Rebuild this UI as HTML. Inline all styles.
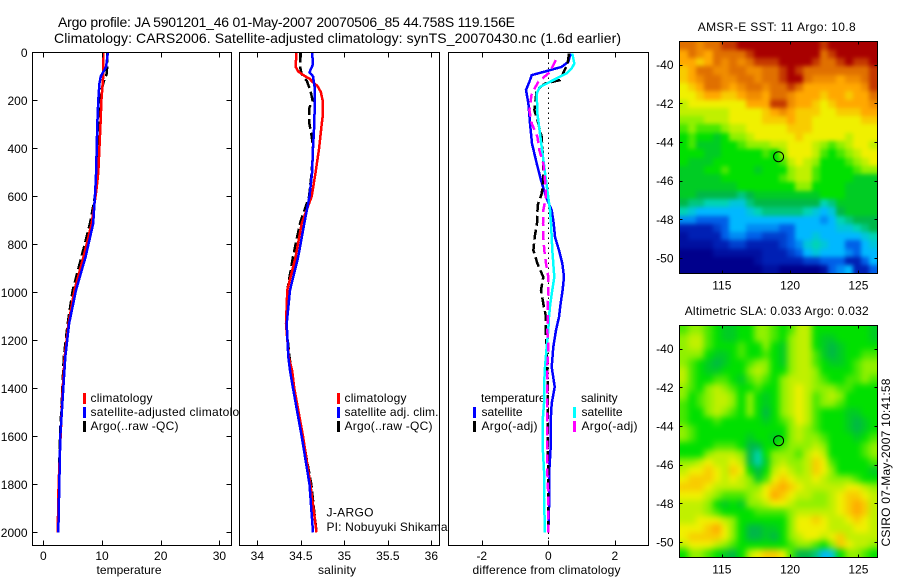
<!DOCTYPE html>
<html>
<head>
<meta charset="utf-8">
<title>Argo profile</title>
<style>
html,body{margin:0;padding:0;background:#fff;}
svg{display:block;}
text{font-family:"Liberation Sans",sans-serif;font-size:12px;fill:#000;}
</style>
</head>
<body>
<svg id="chart" xmlns="http://www.w3.org/2000/svg" width="900" height="580" viewBox="0 0 900 580">
  <defs>
    <filter id="smoothSst" x="0" y="0" width="100%" height="100%" color-interpolation-filters="sRGB">
      <feGaussianBlur stdDeviation="2"/>
      <feComponentTransfer><feFuncA type="linear" slope="100"/></feComponentTransfer>
    </filter>
    <filter id="smoothSla" x="0" y="0" width="100%" height="100%" color-interpolation-filters="sRGB">
      <feGaussianBlur stdDeviation="3.2"/>
      <feComponentTransfer><feFuncA type="linear" slope="100"/></feComponentTransfer>
    </filter>
  </defs>
  <text x="58" y="27" style="font-size:14px" textLength="457" lengthAdjust="spacing">Argo profile: JA 5901201_46 01-May-2007 20070506_85 44.758S 119.156E</text>
  <text x="54" y="43" style="font-size:14px" textLength="567" lengthAdjust="spacing">Climatology: CARS2006. Satellite-adjusted climatology: synTS_20070430.nc (1.6d earlier)</text>
  <g id="panel-temp"></g>
  <g id="panel-sal"></g>
  <g id="panel-diff"></g>
  <g id="map-sst"></g>
  <g id="map-sla"></g>
  <text x="776.7" y="31" text-anchor="middle" textLength="158" lengthAdjust="spacing">AMSR-E SST: 11 Argo: 10.8</text>
  <text x="776.7" y="315" text-anchor="middle" textLength="184" lengthAdjust="spacing">Altimetric SLA: 0.033 Argo: 0.032</text>
  <text transform="translate(890,546.5) rotate(-90)" textLength="168" lengthAdjust="spacing">CSIRO 07-May-2007 10:41:58</text>
</svg>
<script>
/* ---------- profile data ---------- */
const depthTicks = [0,200,400,600,800,1000,1200,1400,1600,1800,2000];
const tempTicks = [0,10,20,30];
const salTicks = [34,34.5,35,35.5,36];
const salTickLabels = ['34','34.5','35','35.5','36'];
const diffTicks = [-2,0,2];

const tempClimDepth = [0,100,200,300,400,500,574,713,852,991,1130,1269,1400,1600,1800,2000];
const tempClim = [10.2,10.2,9.9,9.75,9.55,9.37,9.05,8.25,6.85,5.3,4.3,3.65,3.3,2.95,2.6,2.45];
const tempSatDepth = [0,61,100,130,200,300,400,500,574,713,852,991,1130,1269,1400,1600,1800,2000];
const tempSat = [11,10.7,9.8,9.55,9.37,9.2,9.1,9,8.86,8.5,7.2,5.57,4.4,3.75,3.4,2.9,2.73,2.55];
const tempArgoDepth = [0,50,90,120,150,200,300,400,500,574,713,852,991,1130,1269,1400,1600,1800,2000];
const tempArgo = [10.9,10.9,10.8,10.3,10,9.65,9.55,9.4,9.3,9,7.95,6.5,5,4.15,3.5,3.25,2.85,2.65,2.5];

const salClimDepth = [0,60,80,100,110,125,140,165,200,270,300,400,500,600,713,852,991,1130,1269,1325,1400,1600,1800,2000];
const salClim = [34.45,34.44,34.47,34.55,34.6,34.64,34.69,34.73,34.75,34.75,34.74,34.71,34.67,34.625,34.51,34.44,34.345,34.33,34.36,34.4,34.425,34.525,34.61,34.68];
const salSatDepth = [0,50,83,100,150,200,300,400,500,600,713,852,991,1130,1269,1325,1400,1600,1800,2000];
const salSat = [34.63,34.64,34.6,34.64,34.66,34.66,34.655,34.64,34.63,34.6,34.54,34.47,34.376,34.338,34.356,34.376,34.41,34.51,34.6,34.64];
const salArgoDepth = [0,60,90,120,160,200,230,260,300,350,400,500,600,713,852,991,1130,1269,1325,1400,1600,1800,2000];
const salArgo = [34.49,34.49,34.51,34.57,34.61,34.635,34.6,34.595,34.6,34.625,34.64,34.625,34.595,34.49,34.41,34.345,34.33,34.37,34.39,34.42,34.52,34.62,34.68];

const diffTempSatDepth = [5,40,61,82,95,123,157,213,296,380,463,533,602,658,713,769,825,880,936,991,1047,1103,1158,1228,1311,1394,1463,1533,1644,1742,1853,2000];
const diffTempSat = [0.67,0.6,0.4,-0.15,-0.5,-0.57,-0.67,-0.6,-0.55,-0.49,-0.35,-0.22,-0.07,0.1,0.16,0.2,0.32,0.42,0.47,0.43,0.37,0.32,0.23,0.15,0.1,0.19,0.1,0.07,0.07,0.03,0.03,0];
const diffTempArgoDepth = [5,47,116,130,157,241,283,352,463,533,590,637,713,769,825,880,936,991,1047,1103,1158,1228,1400,2000];
const diffTempArgo = [0.62,0.58,0.35,-0.1,-0.35,-0.42,-0.33,-0.2,-0.15,-0.15,-0.2,-0.32,-0.34,-0.41,-0.45,-0.33,-0.15,-0.22,-0.15,-0.07,-0.08,-0.05,-0.02,0];
const diffSalSatDepth = [5,47,68,88,116,144,172,255,394,533,658,713,769,825,880,936,991,1047,1103,1158,1228,1311,1394,1463,1533,1644,1742,1853,2000];
const diffSalSat = [0.72,0.78,0.7,0.55,0.15,-0.25,-0.35,-0.33,-0.2,-0.07,0.05,0.08,0.1,0.12,0.15,0.18,0.12,0.06,0.02,0,-0.05,-0.1,-0.13,-0.13,-0.17,-0.17,-0.13,-0.13,-0.1];
const diffSalArgoDepth = [33,82,123,172,241,296,352,408,463,533,602,658,713,769,825,880,936,991,1047,1103,1158,1228,1311,1463,1533,1644,1742,1853,2000];
const diffSalArgo = [0.22,0.05,-0.3,-0.5,-0.57,-0.5,-0.33,-0.27,-0.15,-0.1,-0.07,-0.15,-0.16,-0.15,-0.12,-0.07,0,0,-0.02,-0.02,-0.03,0,-0.03,-0.03,-0.03,-0.03,-0.03,0,0];

/* ---------- map data ---------- */
const lonTicks = [115,120,125];
const latTicks = [-40,-42,-44,-46,-48,-50];
const argoLon = 119.156;
const argoLat = -44.758;
const sstGrid = [
[10,10,9.5,10,10,10.5,10.5,11,11,11,11,11,11,11,11,11,11,10.5,11,11,11,11,11,11],
[9,10,9.5,9,10,10,10,10,10.5,11,11,11,11,11,11,11,11,10,10.5,11,11,11,11,11],
[9,9,8.5,9,10,9.5,10,9.5,10,10.5,10.5,10.5,11,11,11,11,10.5,10,10,10.5,11,10.5,10.5,11],
[8.5,9,10,10,9.5,9.5,10,10,9.5,9.5,10,10,10.5,11,10.5,10,10,10,10,10,10,10,10,10.5],
[8.5,9,9.5,10,10,9.5,9.5,10,10,9.5,10,10,10.5,11,11,10,9.5,9.5,9.5,9,9.5,9.5,10,10.5],
[8,8.5,9,10,10,9.5,9,9.5,10,10,9.5,10,10,10.5,10,9,9,9,9,9,9,9,9.5,10.5],
[8,8,8.5,9,9,8.5,8.5,9,9.5,9.5,9,10,10,9.5,9,9,9,8.5,9,9,8.5,9,9,10],
[7.5,8,8,8,8,8,8,8,9,9,9,10.5,10.5,9.5,9,9,8.5,8,8.5,9,9,9,9,9.5],
[7.5,7.5,7.5,7.5,7.5,7.5,8,8,8,8,8.5,9,9.5,9,8.5,8.5,8.5,8,8,8.5,8.5,8.5,9,9],
[7,7,7,7.5,7.5,7.5,8,8,8,8,8.5,8.5,8.5,9,8.5,8.5,8,8,8,8,8,8,8.5,8.5],
[6.5,7,6.5,6.5,6.5,7,7.5,7.5,8,8,8,8,8,8.5,8.5,8.5,8,8,8,8,8,8,8,8],
[6,6.5,6,6,5.5,6,7,7,7.5,8,8,8,8,8,8.5,8,8,8,8,8,7.5,8,8,8],
[6,6.5,5.5,5.5,5.5,6,6,6.5,7,7,7,7.5,7.5,8,8,8,7.5,7,6.5,7,7.5,8,8,7.5],
[6,6,6,5.5,5.5,6,6,6,6,6,6.5,6,7,8,8,8,7.5,6.5,6,6.5,7,7.5,8,8],
[6,5.5,5.5,5.5,6,6,6,6,6,6,6,6,6.5,7.5,8,7.5,7,6,6,6,6.5,7,7.5,8],
[5.5,5.5,5.5,6,6,6.5,6,6,6,5.5,6,6,6,7,7.5,7.5,6.5,6,6,6,6,6.5,7,7],
[5.5,5.5,5.5,5.5,5.5,6,6,6,6,6,6,6,6.5,7,7.5,7.5,6.5,6,6,6,6,5.5,5.5,5.5],
[5.5,5.5,5.5,5.5,5.5,5.5,5.5,6,6,6,6,6,6,6,7,7,6,6,6,6,5.5,5.5,5.5,5.5],
[5.5,5.5,5,5,5,5,5,4.5,5,5.5,5.5,5.5,5.5,5.5,5.5,5.5,5.5,6,6,6,5.5,5.5,5.5,5.5],
[5,4.5,4.5,4,4,4,3.5,3.5,4.5,5,5,5,5,5,5,5,5,4,4.5,5.5,5.5,5.5,5.5,5.5],
[4,3.5,3,3,3,3,3,3,3.5,4,4.5,4.5,4.5,4.5,4.5,4,3.5,3,3.5,5,5.5,5.5,5.5,5.5],
[2.5,2.5,2,2,2,2,3,3,3,3,3,3,3,3,3,3,3,2.5,3,4,4.5,5,5,5],
[1,1,1,1,1.5,2,3,3,2.5,2.5,2.5,2.5,2,2,3,3,3,3,3,3.5,3.5,4,4.5,5],
[0.5,1,1,1,1,2,2.5,2.5,2,2,1.5,1.5,1.5,2,3,3,3.5,3,3,3,3,3,3.5,4],
[0.5,0.5,0.5,0.5,1,1,1.5,1.5,1,1,1,1,1.5,2,2.5,3.5,4,3.5,3,3,2,2,3,3.5],
[0,0,0,0,0.5,0.5,0.5,0.5,0.5,0.5,1,1,1,1.5,2,3,3.5,3,3,3,2.5,2,3,3],
[0,0,0,0,0,0,0,0,0,0.5,1,1,1,1,1,1.5,1.5,2,2,2,1,1,2,3],
[0,0,0,0,0,0,0,0,0,0,0.5,0.5,0,0,0,0,0,0.5,2,2.5,3,1,1,2]
];
const slaGrid = [
[6.5,7,7,6.5,6,5.5,5.5,6,6,7,7,6.5,6,6.5,7.5,7.5,6,6,6,6,6,6,6,5.5],
[7,7.5,7.5,6.5,6,5.5,5.5,6,6,7,7,6.5,6,7,7.5,7.5,6,5.5,5.5,6,6,6,6,5.5],
[7,7.5,7.5,6.5,6,6,6,6.5,6,6,7,6,5.5,7,7.5,7.5,6,5.5,5,5.5,6,6,6,6],
[7,7,7,6,5.5,5.5,6,6.5,6,6,6.5,6,5.5,7,7.5,7.5,6.5,5.5,5,5.5,6,6,6.5,6.5],
[7,6.5,6,5.5,5,5.5,6,6,6.5,7,7,6,5.5,7,7.5,7.5,6.5,6,5.5,5.5,6,6.5,7,7],
[7.5,6.5,6,5.5,5.5,6,6,6,7,7.5,7,6,6,7,7.5,7.5,7,6,6,6,6,6.5,7,7],
[7.5,6.5,6,6,6.5,6.5,6,5.5,6.5,7,6.5,6,7,7.5,7.5,7.5,7,6.5,6,6,6.5,6.5,7,6.5],
[7,6.5,6,7,7.5,7,6.5,6,6,6.5,6,6,7,7.5,8,7.5,7,7,7,6.5,6.5,6,6,6],
[7,6,6.5,7,7.5,7.5,7,6,7,6,5.5,6,7,7.5,8,7.5,6.5,7,7.5,7,6,6,6,6],
[6.5,6,6.5,7,7.5,7.5,7,6,7,6,5.5,6,7,7.5,8,7.5,6.5,7,7,6.5,6,6,6,6],
[6.5,6,6,7,7.5,7,6.5,6,7,6,5,6,7,7.5,8,7.5,6.5,6,6,6,5.5,5.5,6,6],
[6.5,6,6,6,6.5,6,6,6,6,6,5.5,6,6.5,7,8,7.5,6.5,6,6,6,5.5,5,5.5,6],
[7,6.5,6,6,6,6,6,6,6,6,6,6,6,7,7.5,7,6.5,6,6,6,5.5,5,5.5,6],
[7,6.5,6,6,6,6,6,6,5.5,6,6,5.5,6,7,7.5,7,7,6.5,6,6,6,5.5,6,6.5],
[6,6,6,6,6.5,6.5,6.5,6,5,5,6,6,6.5,7,7,7,7.5,7,6,6,6,6,6.5,7],
[6,6,6,7,7.5,7.5,7.5,7,5,4,6,7,7,7,6.5,7.5,8,7.5,6,6,6,6,6.5,7],
[7,7,7.5,8,7.5,7.5,8,7.5,5,4,5.5,7,7.5,7,7,7.5,8.5,8,6.5,6,6,6,6,6.5],
[7.5,8,8,8.5,8,7.5,8.5,8,6,5,6,7.5,8,7.5,7,7.5,8.5,8,7,6,6,6,6,5.5],
[8,8.5,8.5,8.5,8,7.5,8,7.5,7,5.5,6.5,8,8.5,8,7.5,7.5,8,7.5,7,7,7,6.5,6,6],
[8.5,8.5,8.5,8,7.5,7.5,7.5,7.5,7,7,8,8.5,9,8.5,8,7.5,7.5,7.5,7.5,7.5,8,8,7.5,7],
[8,8,8,7.5,7,6.5,6.5,6.5,7,7.5,8,9,8.5,8,7.5,7.5,7,7,7.5,8,8.5,8.5,8,7.5],
[7.5,7.5,7.5,7,6,5.5,6,5.5,7,7,7.5,8,8,7.5,7,7,7,7,7.5,8,8.5,9,8.5,7.5],
[7.5,7.5,7.5,7,6.5,6,6,6,6,6.5,6.5,6.5,6.5,7,7.5,7.5,7.5,7.5,7.5,8,8.5,9,8.5,7.5],
[7.5,7.5,8,8,8,7.5,7,6,6,6,6,6,6,7,8,8,8.5,8,7.5,7.5,8,8.5,8,7.5],
[8,8,8,8.5,9,8,7,6,5,5,5.5,5.5,6,7,8,8,8,8,7.5,7.5,7.5,8,8,7.5],
[8,8.5,8.5,8.5,8.5,8,7,6,5,5,5.5,5,6,7,7.5,8,8,7.5,8,8.5,7.5,7.5,7.5,7.5],
[7.5,8,8,8,7.5,7,6.5,6,6,6,6,6,6,6.5,7,7,6.5,6,7,8.5,8,7.5,7.5,7],
[6,7,7,6.5,6,5.5,5,6,7.5,8,8.5,8.5,8,6.5,5,5,4.5,3,3.5,6,7,7,6.5,6]
];
const colorStops = ['#00008c','#0020b4','#0060e8','#00b8ff','#00d4b4','#00b848','#00e000','#90f000','#f0f000','#ffa800','#e07000','#a80000'];

/* ---------- helpers ---------- */
const NS = 'http://www.w3.org/2000/svg';
function el(tag, attrs, parent, txt) {
  const n = document.createElementNS(NS, tag);
  for (const k in attrs) n.setAttribute(k, attrs[k]);
  if (txt !== undefined) n.textContent = txt;
  parent.appendChild(n);
  return n;
}
function linear(d0, d1, r0, r1) {
  return v => r0 + (v - d0) * (r1 - r0) / (d1 - d0);
}
function hexRgb(h) {
  return [parseInt(h.slice(1,3),16), parseInt(h.slice(3,5),16), parseInt(h.slice(5,7),16)];
}
function levelColor(v) {
  const c = Math.max(0, Math.min(colorStops.length - 1, v));
  const i = Math.min(colorStops.length - 2, Math.floor(c));
  const t = c - i;
  const a = hexRgb(colorStops[i]);
  const b = hexRgb(colorStops[i + 1]);
  return 'rgb(' + a.map((q, j) => Math.round(q + (b[j] - q) * t)).join(',') + ')';
}
function frame(parent, box) {
  const f = el('rect', {x:box.l, y:box.t, width:box.r-box.l, height:box.b-box.t, fill:'none', stroke:'#000', 'stroke-width':1, 'shape-rendering':'crispEdges'}, parent);
  
  
}
function panelBack(parent, box) {
  const f = el('rect', {x:box.l, y:box.t, width:box.r-box.l, height:box.b-box.t, fill:'#fff'}, parent);
  
  
}
function tick(parent, x1, y1, x2, y2) {
  const t = el('line', {x1:x1, y1:y1, x2:x2, y2:y2, stroke:'#000', 'stroke-width':1, 'shape-rendering':'crispEdges'}, parent);
  
  
}
function label(parent, x, y, s, anchor, len) {
  const attrs = {x:x, y:y, 'text-anchor':anchor || 'middle'};
  if (len) { attrs.textLength = len; attrs.lengthAdjust = 'spacing'; }
  const t = el('text', attrs, parent, s);
  
  
  return t;
}
function profile(parent, clipId, xs, ds, vals, depths, color, dash, name) {
  const pts = vals.map((v, i) => xs(v).toFixed(1) + ',' + ds(depths[i]).toFixed(1)).join(' ');
  const attrs = {points:pts, fill:'none', stroke:color, 'stroke-width':2.5, 'shape-rendering':'crispEdges', 'clip-path':'url(#' + clipId + ')'};
  if (dash) attrs['stroke-dasharray'] = dash;
  const p = el('polyline', attrs, parent);
  
  
}
function legendEntry(parent, barX, textX, baseline, color, s, len) {
  const b = el('rect', {x:barX, y:baseline-9, width:3, height:11, fill:color, 'shape-rendering':'crispEdges'}, parent);
  
  
  const attrs = {x:textX, y:baseline};
  if (len) { attrs.textLength = len; attrs.lengthAdjust = 'spacing'; }
  const t = el('text', attrs, parent, s);
  
  
}

const svg = document.getElementById('chart');
const defs = svg.querySelector('defs');
function addClip(id, box) {
  const c = el('clipPath', {id:id}, defs);
  el('rect', {x:box.l, y:box.t, width:box.r-box.l, height:box.b-box.t}, c);
}

const boxT = {l:32.5, r:231.5, t:52.5, b:545.5};
const boxS = {l:239.5, r:439.5, t:52.5, b:545.5};
const boxD = {l:448.5, r:648.5, t:52.5, b:545.5};
addClip('clipT', boxT);
addClip('clipS', boxS);
addClip('clipD', boxD);
const depthScale = linear(0, 2054, 52.3, 545.3);

/* ---------- temperature panel ---------- */
(function () {
  const g = document.getElementById('panel-temp');
  const xs = linear(-1.84, 32.06, boxT.l, boxT.r);
  panelBack(g, boxT);
  profile(g, 'clipT', xs, depthScale, tempArgo, tempArgoDepth, '#000', '10 4', 'temperature-argo-line');
  profile(g, 'clipT', xs, depthScale, tempClim, tempClimDepth, '#ff0000', null, 'temperature-climatology-line');
  profile(g, 'clipT', xs, depthScale, tempSat, tempSatDepth, '#0000ff', null, 'temperature-satellite-line');
  legendEntry(g, 83, 90.5, 402, '#ff0000', 'climatology', 62);
  legendEntry(g, 83, 90.5, 416, '#0000ff', 'satellite-adjusted climatology', 162);
  legendEntry(g, 83, 90.5, 430, '#000', 'Argo(..raw -QC)', 88);
  tempTicks.forEach(v => {
    const x = Math.round(xs(v)) + 0.5;
    tick(g, x, boxT.t, x, boxT.t + 5);
    tick(g, x, boxT.b, x, boxT.b - 5);
    label(g, xs(v), 560, String(v));
  });
  depthTicks.forEach(d => {
    const y = Math.round(depthScale(d)) + 0.5;
    tick(g, boxT.l, y, boxT.l + 5, y);
    tick(g, boxT.r, y, boxT.r - 5, y);
    label(g, 27.5, depthScale(d) + 4.5, String(d), 'end');
  });
  label(g, 129, 574, 'temperature', 'middle', 65);
  frame(g, boxT);
})();

/* ---------- salinity panel ---------- */
(function () {
  const g = document.getElementById('panel-sal');
  const xs = linear(33.795, 36.094, boxS.l, boxS.r);
  panelBack(g, boxS);
  profile(g, 'clipS', xs, depthScale, salArgo, salArgoDepth, '#000', '10 4', 'salinity-argo-line');
  profile(g, 'clipS', xs, depthScale, salClim, salClimDepth, '#ff0000', null, 'salinity-climatology-line');
  profile(g, 'clipS', xs, depthScale, salSat, salSatDepth, '#0000ff', null, 'salinity-satellite-line');
  legendEntry(g, 337, 344.5, 402, '#ff0000', 'climatology', 62);
  legendEntry(g, 337, 344.5, 416, '#0000ff', 'satellite adj. clim.', 94);
  legendEntry(g, 337, 344.5, 430, '#000', 'Argo(..raw -QC)', 88);
  const a = label(g, 326.5, 516.5, 'J-ARGO', 'start', 47);
  
  const b = label(g, 326.5, 531, 'PI: Nobuyuki Shikama', 'start', 121);
  
  salTicks.forEach((v, i) => {
    const x = Math.round(xs(v)) + 0.5;
    tick(g, x, boxS.t, x, boxS.t + 5);
    tick(g, x, boxS.b, x, boxS.b - 5);
    label(g, xs(v), 560, salTickLabels[i]);
  });
  label(g, 337, 574, 'salinity', 'middle', 38);
  frame(g, boxS);
})();

/* ---------- difference panel ---------- */
(function () {
  const g = document.getElementById('panel-diff');
  const xs = linear(-3, 3.01, boxD.l, boxD.r);
  panelBack(g, boxD);
  const z = Math.round(xs(0)) + 0.5;
  const zero = el('line', {x1:z, y1:boxD.t, x2:z, y2:boxD.b, stroke:'#000', 'stroke-width':1, 'stroke-dasharray':'1.3 3.7', 'shape-rendering':'crispEdges'}, g);
  
  
  legendEntry(g, 473, 481.5, 416, '#0000ff', 'satellite', 41);
  legendEntry(g, 473, 481.5, 430, '#000', 'Argo(-adj)', 56);
  legendEntry(g, 573, 581.5, 416, '#00ffff', 'satellite', 41);
  legendEntry(g, 573, 581.5, 430, '#ff00ff', 'Argo(-adj)', 56);
  const h1 = el('text', {x:481, y:402}, g, 'temperature');
  
  
  const h2 = el('text', {x:581, y:402}, g, 'salinity');
  
  
  profile(g, 'clipD', xs, depthScale, diffTempSat, diffTempSatDepth, '#0000ff', null, 'difference-temperature-satellite-line');
  profile(g, 'clipD', xs, depthScale, diffTempArgo, diffTempArgoDepth, '#000', '10 4', 'difference-temperature-argo-line');
  profile(g, 'clipD', xs, depthScale, diffSalSat, diffSalSatDepth, '#00ffff', null, 'difference-salinity-satellite-line');
  profile(g, 'clipD', xs, depthScale, diffSalArgo, diffSalArgoDepth, '#ff00ff', '9 5', 'difference-salinity-argo-line');
  diffTicks.forEach(v => {
    const x = Math.round(xs(v)) + 0.5;
    tick(g, x, boxD.t, x, boxD.t + 5);
    tick(g, x, boxD.b, x, boxD.b - 5);
    label(g, xs(v), 560, String(v));
  });
  label(g, 546.5, 574, 'difference from climatology', 'middle', 148);
  frame(g, boxD);
})();

/* ---------- maps ---------- */
function drawMap(id, grid, box, cellName, filterId) {
  const g = document.getElementById(id);
  const xs = linear(111.9, 126.4, box.l, box.r);
  const ys = linear(-38.8, -50.8, box.t, box.b);
  const nRows = grid.length;
  const nCols = grid[0].length;
  const cw = (box.r - box.l) / nCols;
  const ch = (box.b - box.t) / nRows;
  const cells = el('g', {filter:'url(#' + filterId + ')'}, g);
  
  
  grid.forEach((row, j) => {
    row.forEach((v, i) => {
      const x0 = Math.round(box.l + i * cw);
      const x1 = Math.round(box.l + (i + 1) * cw);
      const y0 = Math.round(box.t + j * ch);
      const y1 = Math.round(box.t + (j + 1) * ch);
      const c = el('rect', {x:x0, y:y0, width:x1-x0, height:y1-y0, fill:levelColor(v), 'shape-rendering':'crispEdges'}, cells);
      
      
    });
  });
  lonTicks.forEach(v => {
    const x = Math.round(xs(v)) + 0.5;
    tick(g, x, box.t, x, box.t + 3);
    tick(g, x, box.b, x, box.b - 3);
    label(g, xs(v), box.b + 16, String(v));
  });
  latTicks.forEach(v => {
    const y = Math.round(ys(v)) + 0.5;
    tick(g, box.l, y, box.l + 3, y);
    tick(g, box.r, y, box.r - 3, y);
    label(g, 673.5, ys(v) + 4.5, String(v), 'end');
  });
  frame(g, box);
  const m = el('circle', {cx:xs(argoLon), cy:ys(argoLat), r:5, fill:'none', stroke:'#000', 'stroke-width':1}, g);
  
  
}
drawMap('map-sst', sstGrid, {l:679.5, r:877.5, t:41.5, b:273.5}, 'sst-cell', 'smoothSst');
drawMap('map-sla', slaGrid, {l:679.5, r:877.5, t:325.5, b:557.5}, 'sla-cell', 'smoothSla');
</script>
</body>
</html>
